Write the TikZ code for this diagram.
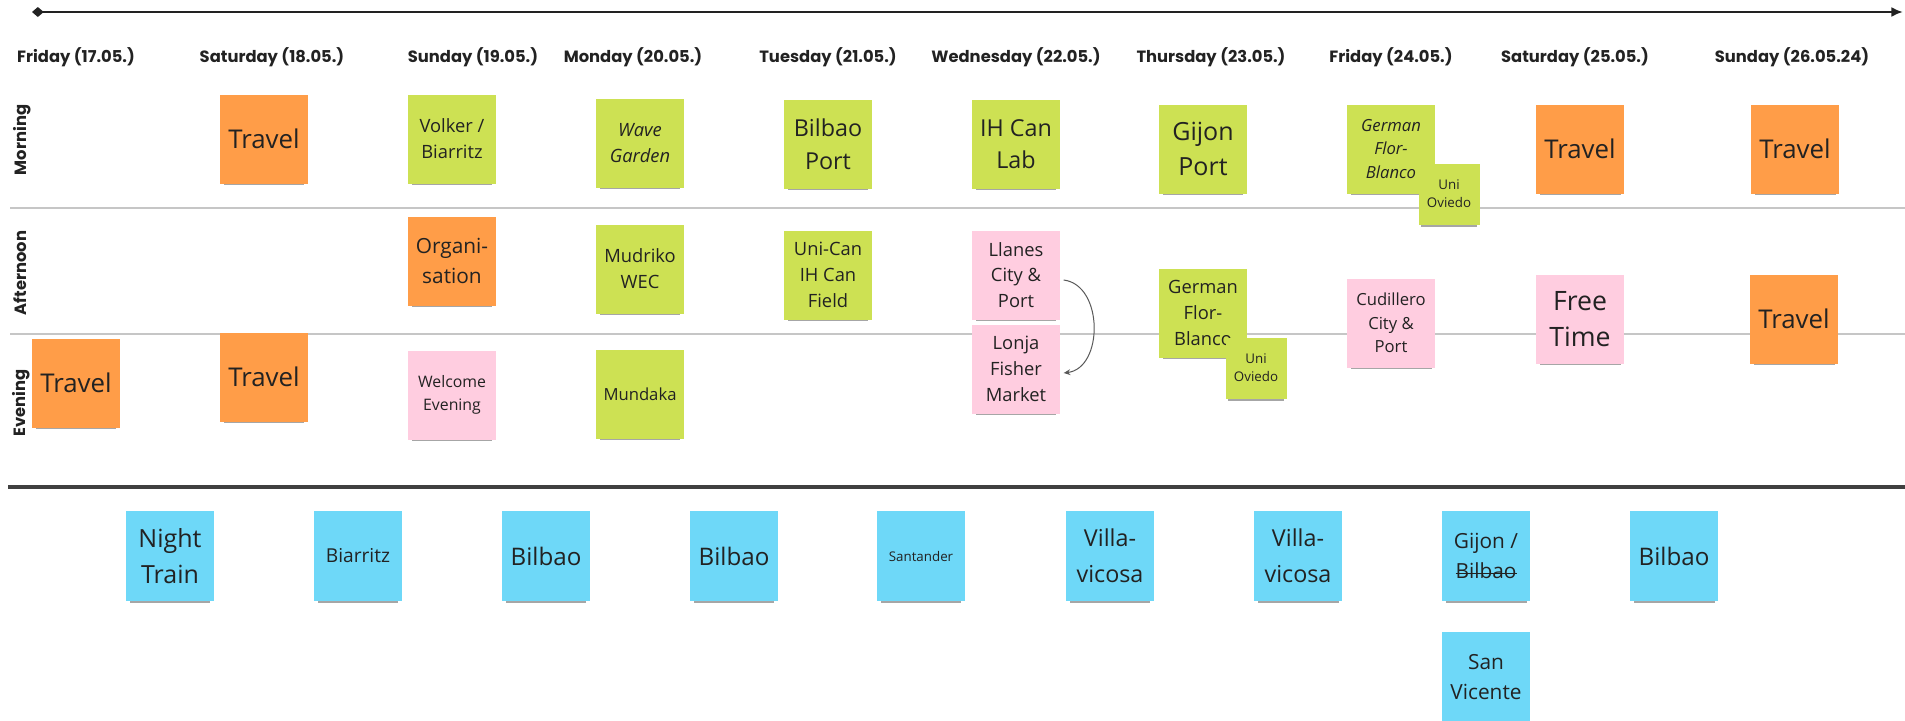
\documentclass[tikz,border=0pt]{standalone}
\usepackage{fontspec}
\setmainfont{Open Sans}
\newfontfamily\headfont{Poppins}
\usetikzlibrary{arrows.meta, shadows, positioning}

\definecolor{noteorange}{HTML}{FF9D48}
\definecolor{notegreen}{HTML}{CDE153}
\definecolor{notepink}{HTML}{FFCDE0}
\definecolor{notecyan}{HTML}{6ED8F8}
\definecolor{inktext}{HTML}{222222}
\definecolor{rulegray}{HTML}{C6C6C6}

\newcommand{\fs}[2]{\fontsize{#1}{#2}\selectfont}
\newcommand{\struck}[1]{\setbox0\hbox{#1}\rlap{\raisebox{0.45ex}{\rule{\wd0}{0.7pt}}}\box0}

\tikzset{
  note/.style={minimum width=52.8pt, minimum height=53.4pt, inner sep=1pt, align=center, text=inktext,
    drop shadow={shadow xshift=0pt, shadow yshift=-3.5pt, shadow scale=.92, opacity=.35, fill=black}},
  mini/.style={minimum width=36.6pt, minimum height=36.6pt, font=\fs{8}{11}},
  orange note/.style={note, fill=noteorange},
  green note/.style={note, fill=notegreen},
  pink note/.style={note, fill=notepink},
  cyan note/.style={note, fill=notecyan, minimum height=54pt},
  travel/.style={orange note, font=\fs{15.5}{20}},
  day/.style={font=\headfont\bfseries\fs{9.8}{11}, text=inktext},
}

\begin{document}
\begin{tikzpicture}[x=0.6pt, y=-0.6pt]
\useasboundingbox (0,0) rectangle (1905,720);
\fill[white] (0,0) rectangle (1905,720);

% timeline
\coordinate (tlstart) at (32,12);
\coordinate (tlend) at (1903,12);
\draw[line width=1.6pt, inktext, {Diamond[length=7pt,width=6pt]}-{Latex[length=7pt,width=6pt]}] (tlstart) -- (tlend);

% rows
\draw[rulegray, line width=1pt] (10,208) -- (1905,208);
\draw[rulegray, line width=1pt] (10,334) -- (1905,334);
\draw[black!75, line width=2pt] (8,487) -- (1905,487);

\node[day] (d17) at (76,57) {Friday (17.05.)};
\node[day] (d18) at (272,57) {Saturday (18.05.)};
\node[day] (d19) at (473,57) {Sunday (19.05.)};
\node[day] (d20) at (633,57) {Monday (20.05.)};
\node[day] (d21) at (828,57) {Tuesday (21.05.)};
\node[day] (d22) at (1016,57) {Wednesday (22.05.)};
\node[day] (d23) at (1211,57) {Thursday (23.05.)};
\node[day] (d24) at (1391,57) {Friday (24.05.)};
\node[day] (d25) at (1575,57) {Saturday (25.05.)};
\node[day] (d26) at (1792,57) {Sunday (26.05.24)};

\node[day, rotate=90] (morning) at (22,140) {Morning};
\node[day, rotate=90] (afternoon) at (20,273) {Afternoon};
\node[day, rotate=90] (evening) at (21,403) {Evening};

% morning
\node[travel] (travA) at (264,139) {Travel};
\node[green note, font=\fs{11}{15.5}] (volker) at (452,139) {Volker /\\Biarritz};
\node[green note, font=\itshape\fs{11}{15.5}] (wave) at (640,143) {Wave\\Garden};
\node[green note, font=\fs{14}{19.5}] (bilbaoport) at (828,144) {Bilbao\\Port};
\node[green note, font=\fs{14}{19.5}] (ihcan) at (1016,144) {IH Can\\Lab};
\node[green note, font=\fs{15}{21}] (gijon) at (1203,149) {Gijon\\Port};
\node[green note, font=\itshape\fs{10}{14}] (germanA) at (1391,149) {German\\Flor-\\Blanco};
\node[green note, mini] (oviedoA) at (1449,194) {Uni\\Oviedo};
\node[travel] (travB) at (1580,149) {Travel};
\node[travel] (travC) at (1795,149) {Travel};

% afternoon
\node[orange note, font=\fs{12.5}{18}] (organi) at (452,261) {Organi-\\sation};
\node[green note, font=\fs{11}{15.5}] (mudriko) at (640,269) {Mudriko\\WEC};
\node[green note, font=\fs{11}{15.5}] (unican) at (828,275) {Uni-Can\\IH Can\\Field};
\node[pink note, font=\fs{11}{15.5}] (llanes) at (1016,275) {Llanes\\City \&\\Port};
\node[pink note, font=\fs{11}{15.5}] (lonja) at (1016,369) {Lonja\\Fisher\\Market};
\node[green note, font=\fs{11}{15.5}] (germanB) at (1203,313) {German\\Flor-\\Blanco};
\node[green note, mini] (oviedoB) at (1256,368) {Uni\\Oviedo};
\node[pink note, font=\fs{10}{14}] (cudillero) at (1391,323) {Cudillero\\City \&\\Port};
\node[pink note, font=\fs{16}{22}] (freetime) at (1580,319) {Free\\Time};
\node[travel] (travD) at (1794,319) {Travel};

\draw[-{Stealth[length=4pt,width=3.5pt]}, black!65, line width=.6pt]
  ([xshift=2pt,yshift=-3pt]llanes.east) .. controls +(24pt,-3pt) and +(24pt,3pt) .. ([xshift=2pt,yshift=-2.4pt]lonja.east);

% evening
\node[travel] (travE) at (76,383) {Travel};
\node[travel] (travF) at (264,377) {Travel};
\node[pink note, font=\fs{9.5}{14}] (welcome) at (452,395) {Welcome\\Evening};
\node[green note, font=\fs{10}{14}] (mundaka) at (640,394) {Mundaka};

% places
\node[cyan note, font=\fs{15}{21.5}] (night) at (170,556) {Night\\Train};
\node[cyan note, font=\fs{11.5}{16}] (biarritz) at (358,556) {Biarritz};
\node[cyan note, font=\fs{14.5}{20}] (bilbaoA) at (546,556) {Bilbao};
\node[cyan note, font=\fs{14.5}{20}] (bilbaoB) at (734,556) {Bilbao};
\node[cyan note, font=\fs{8}{11}] (santander) at (921,556) {Santander};
\node[cyan note, font=\fs{14}{21.5}] (villaA) at (1110,556) {Villa-\\vicosa};
\node[cyan note, font=\fs{14}{21.5}] (villaB) at (1298,556) {Villa-\\vicosa};
\node[cyan note, font=\fs{12.5}{18.5}] (gijonbilbao) at (1486,556) {Gijon /\\\struck{Bilbao}};
\node[cyan note, font=\fs{14.5}{20}] (bilbaoC) at (1674,556) {Bilbao};
\node[cyan note, font=\fs{12.5}{18.5}] (sanvicente) at (1486,677) {San\\Vicente};
\end{tikzpicture}
\end{document}
